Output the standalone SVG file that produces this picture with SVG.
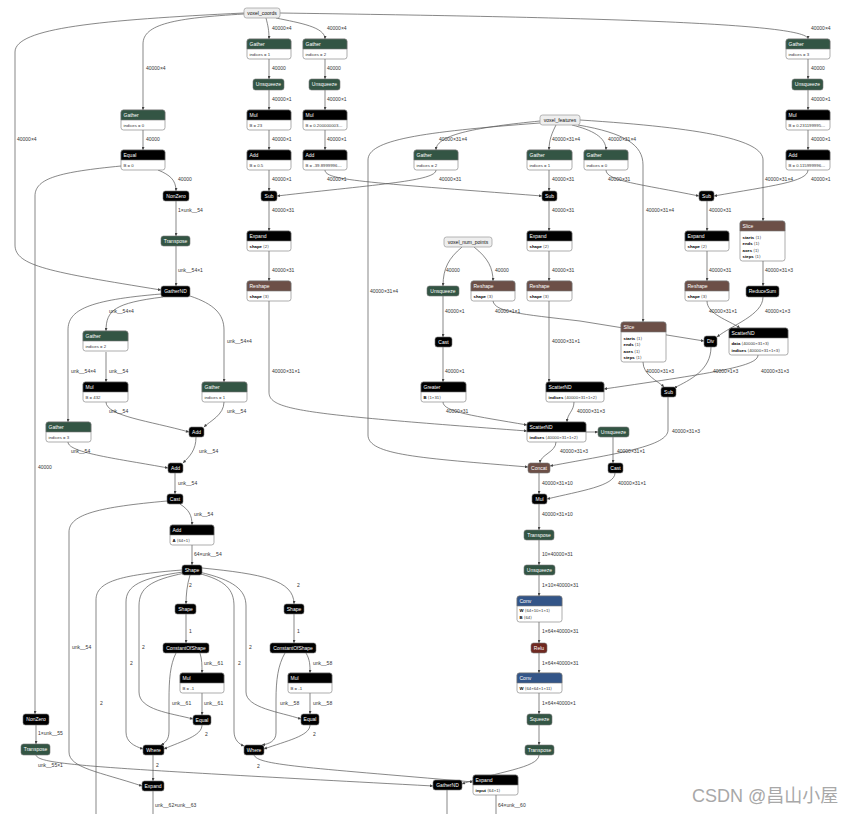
<svg xmlns="http://www.w3.org/2000/svg" width="858" height="814" viewBox="0 0 858 814">
<style>
.bg{fill:#fff}
.k{fill:#000}.tr{fill:#335544}.sh{fill:#6c4f47}.ly{fill:#335588}.ac{fill:#702921}
.n rect,.n path{stroke:#777;stroke-width:0.6}
.n rect.box{fill:#fff}
.in rect{fill:#eee;stroke:#999;stroke-width:0.7}
.it{font:5px "Liberation Sans","DejaVu Sans",sans-serif;fill:#111;text-anchor:middle}
.ht{font:5px "Liberation Sans","DejaVu Sans",sans-serif;fill:#fff}
.hc{font:5px "Liberation Sans","DejaVu Sans",sans-serif;fill:#fff;text-anchor:middle}
.at{font:4.3px "Liberation Sans","DejaVu Sans",sans-serif;fill:#333}
.b{font-weight:bold;fill:#000}
.el{font:5px "Liberation Sans","DejaVu Sans",sans-serif;fill:#333}
.e path{fill:none;stroke:#555;stroke-width:0.7;marker-end:url(#a)}
.e path.nm{marker-end:none}
.wm{font:18px "Liberation Sans","Noto Sans CJK SC",sans-serif;fill:#a8a8a8}
</style>
<defs>
<marker id="a" viewBox="0 0 10 10" refX="10" refY="5" markerWidth="3.6" markerHeight="3" markerUnits="userSpaceOnUse" orient="auto"><path d="M0,0L10,5L0,10z" fill="#444"/></marker>
</defs>
<rect class="bg" width="858" height="814"/>
<g id="connectors" class="e">
<path d="M244,14 C175,18 143,24 143,44 L143,110"/>
<path d="M244,13 C100,20 15,28 15,52 L15,245 C15,266 50,272 161,290"/>
<path d="M266,18 C268,26 269,30 269,39"/>
<path d="M276,18 C300,23 325,27 325,39"/>
<path d="M280,13 C560,17 808,22 808,39"/>
<path d="M269,59 V79"/><path d="M269,90 V110"/><path d="M269,130 V150"/><path d="M269,170 V191"/>
<path d="M325,59 V79"/><path d="M325,90 V110"/><path d="M325,130 V150"/>
<path d="M325,170 C325,180 360,182 542,196"/>
<path d="M808,59 V79"/><path d="M808,90 V110"/><path d="M808,130 V150"/>
<path d="M808,170 C808,182 770,186 714,196"/>
<path d="M143,130 V150"/>
<path d="M158,170 C170,175 176,180 176,191"/>
<path d="M121,166 C60,172 35,178 35,196 L35,714"/>
<path d="M176,201 V236"/>
<path d="M176,246 V286"/>
<path d="M269,201 V231"/><path d="M269,251 V281"/>
<path d="M269,301 L269,392 C269,410 300,414 527,431"/>
<path d="M540,121 C480,127 436,134 436,150"/>
<path d="M540,123 C420,132 368,140 368,160 L368,435 C368,455 420,458 528,467"/>
<path d="M556,125 C552,133 549,140 549,150"/>
<path d="M572,125 C592,130 606,137 606,150"/>
<path d="M578,125 C625,133 643,145 643,165 L643,322"/>
<path d="M580,120 C705,128 763,140 763,160 L763,221"/>
<path d="M436,170 C436,181 380,184 277,196"/>
<path d="M549,170 V191"/>
<path d="M606,170 C606,181 640,184 699,196"/>
<path d="M549,201 V231"/><path d="M549,251 V281"/><path d="M549,301 V382"/>
<path d="M707,201 V231"/><path d="M707,251 V281"/>
<path d="M707,301 C707,314 728,320 740,328"/>
<path d="M763,261 V286"/>
<path d="M763,297 C763,315 732,325 717,337"/>
<path d="M462,247 C449,258 443,268 443,286"/>
<path d="M474,247 C488,258 493,268 493,281"/>
<path d="M443,296 V337"/>
<path d="M443,347 V382"/>
<path d="M443,402 C443,412 475,416 527,425"/>
<path d="M493,301 C495,312 520,314 580,321 L704,341"/>
<path d="M643,362 C643,375 658,381 664,387"/>
<path d="M711,347 C711,370 690,380 674,388"/>
<path d="M758,355 C758,366 720,372 604,389"/>
<path d="M574,402 C574,411 567,414 567,422"/>
<path d="M668,397 L668,430 C668,446 620,453 550,466"/>
<path d="M586,432 H598"/>
<path d="M556,442 C556,452 540,455 540,463"/>
<path d="M613,437 V463"/>
<path d="M539,473 V494"/>
<path d="M615,473 C615,486 580,491 547,499"/>
<path d="M539,504 V530"/><path d="M539,540 V565"/><path d="M539,575 V596"/><path d="M539,622 V643"/><path d="M539,653 V673"/><path d="M539,693 V714"/><path d="M539,725 V745"/>
<path d="M539,755 C539,768 495,772 462,784"/>
<path d="M163,297 C115,303 106,310 106,331"/>
<path d="M161,294 C88,300 68,310 68,330 L68,422"/>
<path d="M190,296 C214,304 224,314 224,330 L224,382"/>
<path d="M106,352 V382"/>
<path d="M106,402 C106,416 150,421 189,432"/>
<path d="M224,402 C224,415 210,421 204,427"/>
<path d="M68,442 C68,453 120,459 168,468"/>
<path d="M196,437 C196,450 190,456 183,463"/>
<path d="M175,473 V494"/>
<path d="M180,504 C189,510 192,515 192,525"/>
<path d="M167,501 C100,507 69,514 69,532 L69,752 C69,768 100,772 142,786"/>
<path d="M192,544 V565"/>
<path d="M190,575 C187,585 186,595 186,604"/>
<path d="M202,568 C262,574 294,580 294,604"/>
<path class="nm" d="M182,570 C118,575 96,582 96,600 L96,814"/>
<path d="M183,572 C140,578 126,586 126,602 L126,732 C126,742 134,746 143,749"/>
<path d="M185,573 C150,580 139,588 139,606 L139,692 C139,710 170,713 193,719"/>
<path d="M199,572 C234,580 246,590 246,606 L246,692 C246,708 280,712 301,719"/>
<path d="M197,573 C226,580 234,590 234,606 L234,731 C234,740 239,744 244,746"/>
<path d="M186,614 V643"/>
<path d="M200,653 C202,660 202,665 202,673"/>
<path d="M176,653 C170,665 169,680 169,700 L169,731 C169,740 165,743 161,745"/>
<path d="M202,693 V715"/>
<path d="M202,725 C202,736 182,741 164,749"/>
<path d="M153,755 V781"/>
<path class="nm" d="M153,791 V814"/>
<path d="M294,614 V643"/>
<path d="M306,653 C310,660 310,665 310,673"/>
<path d="M285,653 C278,665 276,680 276,700 L276,733 C276,741 269,744 262,745"/>
<path d="M310,693 V714"/>
<path d="M310,725 C310,736 286,741 264,749"/>
<path d="M254,755 C258,765 300,767 473,782"/>
<path d="M36,725 V744"/>
<path d="M36,755 C38,765 100,768 433,786"/>
<path class="nm" d="M447,790 V814"/>
<path class="nm" d="M496,795 V814"/>
<g id="edge-labels">
<text class="el" x="272" y="30">40000×4</text>
<text class="el" x="327" y="30">40000×4</text>
<text class="el" x="811" y="30">40000×4</text>
<text class="el" x="146" y="70">40000×4</text>
<text class="el" x="272" y="70">40000</text>
<text class="el" x="327" y="70">40000</text>
<text class="el" x="811" y="70">40000</text>
<text class="el" x="272" y="101">40000×1</text>
<text class="el" x="327" y="101">40000×1</text>
<text class="el" x="811" y="101">40000×1</text>
<text class="el" x="272" y="141">40000×1</text>
<text class="el" x="327" y="141">40000×1</text>
<text class="el" x="811" y="141">40000×1</text>
<text class="el" x="17" y="141">40000×4</text>
<text class="el" x="146" y="141">40000</text>
<text class="el" x="439" y="141">40000×31×4</text>
<text class="el" x="552" y="141">40000×31×4</text>
<text class="el" x="608" y="141">40000×31×4</text>
<text class="el" x="272" y="181">40000×1</text>
<text class="el" x="327" y="181">40000×1</text>
<text class="el" x="811" y="181">40000×1</text>
<text class="el" x="178" y="181">40000</text>
<text class="el" x="439" y="181">40000×31</text>
<text class="el" x="552" y="181">40000×31</text>
<text class="el" x="608" y="181">40000×31</text>
<text class="el" x="765" y="181">40000×31×4</text>
<text class="el" x="178" y="212">1×unk__54</text>
<text class="el" x="272" y="212">40000×31</text>
<text class="el" x="552" y="212">40000×31</text>
<text class="el" x="709" y="212">40000×31</text>
<text class="el" x="646" y="212">40000×31×4</text>
<text class="el" x="178" y="272">unk__54×1</text>
<text class="el" x="272" y="272">40000×31</text>
<text class="el" x="552" y="272">40000×31</text>
<text class="el" x="709" y="272">40000×31</text>
<text class="el" x="765" y="272">40000×31×3</text>
<text class="el" x="446" y="272">40000</text>
<text class="el" x="495" y="272">40000</text>
<text class="el" x="370" y="293">40000×31×4</text>
<text class="el" x="109" y="313">unk__54×4</text>
<text class="el" x="445" y="313">40000×1</text>
<text class="el" x="495" y="313">40000×1×1</text>
<text class="el" x="709" y="313">40000×31×1</text>
<text class="el" x="765" y="313">40000×1×3</text>
<text class="el" x="227" y="343">unk__54×4</text>
<text class="el" x="552" y="343">40000×31×1</text>
<text class="el" x="71" y="373">unk__54×4</text>
<text class="el" x="109" y="373">unk__54</text>
<text class="el" x="272" y="373">40000×31×1</text>
<text class="el" x="445" y="373">40000×1</text>
<text class="el" x="646" y="373">40000×31×3</text>
<text class="el" x="713" y="373">40000×1×3</text>
<text class="el" x="761" y="373">40000×31×3</text>
<text class="el" x="109" y="413">unk__54</text>
<text class="el" x="227" y="413">unk__54</text>
<text class="el" x="446" y="413">40000×31</text>
<text class="el" x="577" y="413">40000×31×3</text>
<text class="el" x="672" y="433">40000×31×3</text>
<text class="el" x="71" y="453">unk__54</text>
<text class="el" x="199" y="453">unk__54</text>
<text class="el" x="560" y="453">40000×31×3</text>
<text class="el" x="617" y="453">40000×31×1</text>
<text class="el" x="38" y="469">40000</text>
<text class="el" x="178" y="485">unk__54</text>
<text class="el" x="542" y="485">40000×31×10</text>
<text class="el" x="618" y="485">40000×31×1</text>
<text class="el" x="194" y="516">unk__54</text>
<text class="el" x="542" y="516">40000×31×10</text>
<text class="el" x="542" y="556">10×40000×31</text>
<text class="el" x="194" y="556">64×unk__54</text>
<text class="el" x="542" y="587">1×10×40000×31</text>
<text class="el" x="189" y="587">2</text>
<text class="el" x="297" y="587">2</text>
<text class="el" x="189" y="633">1</text>
<text class="el" x="297" y="633">1</text>
<text class="el" x="542" y="633">1×64×40000×31</text>
<text class="el" x="542" y="665">1×64×40000×31</text>
<text class="el" x="72" y="649">unk__54</text>
<text class="el" x="142" y="649">2</text>
<text class="el" x="249" y="649">2</text>
<text class="el" x="130" y="665">2</text>
<text class="el" x="204" y="665">unk__61</text>
<text class="el" x="238" y="665">2</text>
<text class="el" x="313" y="665">unk__58</text>
<text class="el" x="100" y="705">2</text>
<text class="el" x="172" y="705">unk__61</text>
<text class="el" x="204" y="705">unk__61</text>
<text class="el" x="280" y="705">unk__58</text>
<text class="el" x="313" y="705">unk__58</text>
<text class="el" x="542" y="705">1×64×40000×1</text>
<text class="el" x="38" y="735">1×unk__55</text>
<text class="el" x="205" y="736">2</text>
<text class="el" x="313" y="736">2</text>
<text class="el" x="38" y="767">unk__55×1</text>
<text class="el" x="156" y="767">2</text>
<text class="el" x="257" y="768">2</text>
<text class="el" x="155" y="807">unk__62×unk__63</text>
<text class="el" x="498" y="807">64×unk__60</text>
</g>
</g>
<g id="voxel_coords" class="in"><rect x="244" y="8" width="36" height="10" rx="2.5"/><text class="it" x="262" y="14.8">voxel_coords</text></g>
<g id="voxel_features" class="in"><rect x="540" y="115" width="40" height="10" rx="2.5"/><text class="it" x="560" y="121.8">voxel_features</text></g>
<g id="voxel_num_points" class="in"><rect x="444" y="237" width="48" height="10" rx="2.5"/><text class="it" x="468" y="243.8">voxel_num_points</text></g>

<g id="gather_c1" class="n"><rect class="box" x="247" y="39" width="44" height="20" rx="2.5"/><path class="tr" d="M247,49v-7.5a2.5,2.5 0 0 1 2.5,-2.5h39a2.5,2.5 0 0 1 2.5,2.5v7.5z"/><text class="ht" x="249.5" y="46">Gather</text><text class="at" x="249.5" y="55.5">indices = 1</text></g>
<g id="gather_c2" class="n"><rect class="box" x="303" y="39" width="44" height="20" rx="2.5"/><path class="tr" d="M303,49v-7.5a2.5,2.5 0 0 1 2.5,-2.5h39a2.5,2.5 0 0 1 2.5,2.5v7.5z"/><text class="ht" x="305.5" y="46">Gather</text><text class="at" x="305.5" y="55.5">indices = 2</text></g>
<g id="gather_c3" class="n"><rect class="box" x="786" y="39" width="44" height="20" rx="2.5"/><path class="tr" d="M786,49v-7.5a2.5,2.5 0 0 1 2.5,-2.5h39a2.5,2.5 0 0 1 2.5,2.5v7.5z"/><text class="ht" x="788.5" y="46">Gather</text><text class="at" x="788.5" y="55.5">indices = 3</text></g>
<g id="gather_c0" class="n"><rect class="box" x="121" y="110" width="44" height="20" rx="2.5"/><path class="tr" d="M121,120v-7.5a2.5,2.5 0 0 1 2.5,-2.5h39a2.5,2.5 0 0 1 2.5,2.5v7.5z"/><text class="ht" x="123.5" y="117">Gather</text><text class="at" x="123.5" y="126.5">indices = 0</text></g>
<g id="unsqueeze_1" class="n"><rect class="tr" x="253" y="79" width="31" height="11" rx="2.5"/><text class="hc" x="268.5" y="86.3">Unsqueeze</text></g>
<g id="unsqueeze_2" class="n"><rect class="tr" x="309" y="79" width="31" height="11" rx="2.5"/><text class="hc" x="324.5" y="86.3">Unsqueeze</text></g>
<g id="unsqueeze_3" class="n"><rect class="tr" x="792" y="79" width="31" height="11" rx="2.5"/><text class="hc" x="807.5" y="86.3">Unsqueeze</text></g>
<g id="mul_1" class="n"><rect class="box" x="247" y="110" width="44" height="20" rx="2.5"/><path class="k" d="M247,120v-7.5a2.5,2.5 0 0 1 2.5,-2.5h39a2.5,2.5 0 0 1 2.5,2.5v7.5z"/><text class="ht" x="249.5" y="117">Mul</text><text class="at" x="249.5" y="126.5">B = 23</text></g>
<g id="mul_2" class="n"><rect class="box" x="303" y="110" width="44" height="20" rx="2.5"/><path class="k" d="M303,120v-7.5a2.5,2.5 0 0 1 2.5,-2.5h39a2.5,2.5 0 0 1 2.5,2.5v7.5z"/><text class="ht" x="305.5" y="117">Mul</text><text class="at" x="305.5" y="126.5">B = 0.200000003…</text></g>
<g id="mul_3" class="n"><rect class="box" x="786" y="110" width="44" height="20" rx="2.5"/><path class="k" d="M786,120v-7.5a2.5,2.5 0 0 1 2.5,-2.5h39a2.5,2.5 0 0 1 2.5,2.5v7.5z"/><text class="ht" x="788.5" y="117">Mul</text><text class="at" x="788.5" y="126.5">B = 0.231199995…</text></g>
<g id="add_1" class="n"><rect class="box" x="247" y="150" width="44" height="20" rx="2.5"/><path class="k" d="M247,160v-7.5a2.5,2.5 0 0 1 2.5,-2.5h39a2.5,2.5 0 0 1 2.5,2.5v7.5z"/><text class="ht" x="249.5" y="157">Add</text><text class="at" x="249.5" y="166.5">B = 0.5</text></g>
<g id="add_2" class="n"><rect class="box" x="303" y="150" width="44" height="20" rx="2.5"/><path class="k" d="M303,160v-7.5a2.5,2.5 0 0 1 2.5,-2.5h39a2.5,2.5 0 0 1 2.5,2.5v7.5z"/><text class="ht" x="305.5" y="157">Add</text><text class="at" x="305.5" y="166.5">B = -39.8999996…</text></g>
<g id="add_3" class="n"><rect class="box" x="786" y="150" width="44" height="20" rx="2.5"/><path class="k" d="M786,160v-7.5a2.5,2.5 0 0 1 2.5,-2.5h39a2.5,2.5 0 0 1 2.5,2.5v7.5z"/><text class="ht" x="788.5" y="157">Add</text><text class="at" x="788.5" y="166.5">B = 0.115999996…</text></g>
<g id="equal_1" class="n"><rect class="box" x="121" y="150" width="44" height="20" rx="2.5"/><path class="k" d="M121,160v-7.5a2.5,2.5 0 0 1 2.5,-2.5h39a2.5,2.5 0 0 1 2.5,2.5v7.5z"/><text class="ht" x="123.5" y="157">Equal</text><text class="at" x="123.5" y="166.5">B = 0</text></g>
<g id="gather_f2" class="n"><rect class="box" x="414" y="150" width="44" height="20" rx="2.5"/><path class="tr" d="M414,160v-7.5a2.5,2.5 0 0 1 2.5,-2.5h39a2.5,2.5 0 0 1 2.5,2.5v7.5z"/><text class="ht" x="416.5" y="157">Gather</text><text class="at" x="416.5" y="166.5">indices = 2</text></g>
<g id="gather_f1" class="n"><rect class="box" x="527" y="150" width="45" height="20" rx="2.5"/><path class="tr" d="M527,160v-7.5a2.5,2.5 0 0 1 2.5,-2.5h40a2.5,2.5 0 0 1 2.5,2.5v7.5z"/><text class="ht" x="529.5" y="157">Gather</text><text class="at" x="529.5" y="166.5">indices = 1</text></g>
<g id="gather_f0" class="n"><rect class="box" x="584" y="150" width="44" height="20" rx="2.5"/><path class="tr" d="M584,160v-7.5a2.5,2.5 0 0 1 2.5,-2.5h39a2.5,2.5 0 0 1 2.5,2.5v7.5z"/><text class="ht" x="586.5" y="157">Gather</text><text class="at" x="586.5" y="166.5">indices = 0</text></g>
<g id="nonzero_1" class="n"><rect class="k" x="163" y="191" width="26" height="10" rx="2.5"/><text class="hc" x="176" y="197.8">NonZero</text></g>
<g id="sub_l" class="n"><rect class="k" x="261" y="191" width="16" height="10" rx="2.5"/><text class="hc" x="269" y="197.8">Sub</text></g>
<g id="sub_m" class="n"><rect class="k" x="542" y="191" width="15" height="10" rx="2.5"/><text class="hc" x="549.5" y="197.8">Sub</text></g>
<g id="sub_r" class="n"><rect class="k" x="699" y="191" width="15" height="10" rx="2.5"/><text class="hc" x="706.5" y="197.8">Sub</text></g>
<g id="slice_1" class="n"><rect class="box" x="740" y="221" width="45" height="40" rx="2.5"/><path class="sh" d="M740,231v-7.5a2.5,2.5 0 0 1 2.5,-2.5h40a2.5,2.5 0 0 1 2.5,2.5v7.5z"/><text class="ht" x="742.5" y="228">Slice</text><text class="at" x="742.5" y="238.5"><tspan class="b">starts</tspan> ⟨1⟩</text><text class="at" x="742.5" y="245"><tspan class="b">ends</tspan> ⟨1⟩</text><text class="at" x="742.5" y="251.5"><tspan class="b">axes</tspan> ⟨1⟩</text><text class="at" x="742.5" y="258"><tspan class="b">steps</tspan> ⟨1⟩</text></g>
<g id="transpose_1" class="n"><rect class="tr" x="161" y="236" width="29" height="10" rx="2.5"/><text class="hc" x="175.5" y="242.8">Transpose</text></g>
<g id="expand_l" class="n"><rect class="box" x="247" y="231" width="44" height="20" rx="2.5"/><path class="k" d="M247,241v-7.5a2.5,2.5 0 0 1 2.5,-2.5h39a2.5,2.5 0 0 1 2.5,2.5v7.5z"/><text class="ht" x="249.5" y="238">Expand</text><text class="at" x="249.5" y="247.5"><tspan class="b">shape</tspan> ⟨2⟩</text></g>
<g id="expand_m" class="n"><rect class="box" x="527" y="231" width="45" height="20" rx="2.5"/><path class="k" d="M527,241v-7.5a2.5,2.5 0 0 1 2.5,-2.5h40a2.5,2.5 0 0 1 2.5,2.5v7.5z"/><text class="ht" x="529.5" y="238">Expand</text><text class="at" x="529.5" y="247.5"><tspan class="b">shape</tspan> ⟨2⟩</text></g>
<g id="expand_r" class="n"><rect class="box" x="685" y="231" width="44" height="20" rx="2.5"/><path class="k" d="M685,241v-7.5a2.5,2.5 0 0 1 2.5,-2.5h39a2.5,2.5 0 0 1 2.5,2.5v7.5z"/><text class="ht" x="687.5" y="238">Expand</text><text class="at" x="687.5" y="247.5"><tspan class="b">shape</tspan> ⟨2⟩</text></g>
<g id="reshape_l" class="n"><rect class="box" x="247" y="281" width="44" height="20" rx="2.5"/><path class="sh" d="M247,291v-7.5a2.5,2.5 0 0 1 2.5,-2.5h39a2.5,2.5 0 0 1 2.5,2.5v7.5z"/><text class="ht" x="249.5" y="288">Reshape</text><text class="at" x="249.5" y="297.5"><tspan class="b">shape</tspan> ⟨3⟩</text></g>
<g id="reshape_vnp" class="n"><rect class="box" x="471" y="281" width="44" height="20" rx="2.5"/><path class="sh" d="M471,291v-7.5a2.5,2.5 0 0 1 2.5,-2.5h39a2.5,2.5 0 0 1 2.5,2.5v7.5z"/><text class="ht" x="473.5" y="288">Reshape</text><text class="at" x="473.5" y="297.5"><tspan class="b">shape</tspan> ⟨3⟩</text></g>
<g id="reshape_m" class="n"><rect class="box" x="527" y="281" width="45" height="20" rx="2.5"/><path class="sh" d="M527,291v-7.5a2.5,2.5 0 0 1 2.5,-2.5h40a2.5,2.5 0 0 1 2.5,2.5v7.5z"/><text class="ht" x="529.5" y="288">Reshape</text><text class="at" x="529.5" y="297.5"><tspan class="b">shape</tspan> ⟨3⟩</text></g>
<g id="reshape_r" class="n"><rect class="box" x="685" y="281" width="44" height="20" rx="2.5"/><path class="sh" d="M685,291v-7.5a2.5,2.5 0 0 1 2.5,-2.5h39a2.5,2.5 0 0 1 2.5,2.5v7.5z"/><text class="ht" x="687.5" y="288">Reshape</text><text class="at" x="687.5" y="297.5"><tspan class="b">shape</tspan> ⟨3⟩</text></g>
<g id="unsqueeze_vnp" class="n"><rect class="tr" x="427" y="286" width="32" height="10" rx="2.5"/><text class="hc" x="443" y="292.8">Unsqueeze</text></g>
<g id="reducesum" class="n"><rect class="k" x="746" y="286" width="33" height="11" rx="2.5"/><text class="hc" x="762.5" y="293.3">ReduceSum</text></g>
<g id="gathernd_1" class="n"><rect class="k" x="161" y="286" width="29" height="11" rx="2.5"/><text class="hc" x="175.5" y="293.3">GatherND</text></g>
<g id="slice_2" class="n"><rect class="box" x="621" y="322" width="45" height="40" rx="2.5"/><path class="sh" d="M621,332v-7.5a2.5,2.5 0 0 1 2.5,-2.5h40a2.5,2.5 0 0 1 2.5,2.5v7.5z"/><text class="ht" x="623.5" y="329">Slice</text><text class="at" x="623.5" y="339.5"><tspan class="b">starts</tspan> ⟨1⟩</text><text class="at" x="623.5" y="346"><tspan class="b">ends</tspan> ⟨1⟩</text><text class="at" x="623.5" y="352.5"><tspan class="b">axes</tspan> ⟨1⟩</text><text class="at" x="623.5" y="359"><tspan class="b">steps</tspan> ⟨1⟩</text></g>
<g id="div" class="n"><rect class="k" x="704" y="336" width="13" height="11" rx="2.5"/><text class="hc" x="710.5" y="343.3">Div</text></g>
<g id="scatternd_r" class="n"><rect class="box" x="729" y="328" width="59" height="27" rx="2.5"/><path class="k" d="M729,338v-7.5a2.5,2.5 0 0 1 2.5,-2.5h54a2.5,2.5 0 0 1 2.5,2.5v7.5z"/><text class="ht" x="731.5" y="335">ScatterND</text><text class="at" x="731.5" y="344.5"><tspan class="b">data</tspan> ⟨40000×31×3⟩</text><text class="at" x="731.5" y="351.5"><tspan class="b">indices</tspan> ⟨40000×31×1×3⟩</text></g>
<g id="gather_g2" class="n"><rect class="box" x="83" y="331" width="45" height="20" rx="2.5"/><path class="tr" d="M83,341v-7.5a2.5,2.5 0 0 1 2.5,-2.5h40a2.5,2.5 0 0 1 2.5,2.5v7.5z"/><text class="ht" x="85.5" y="338">Gather</text><text class="at" x="85.5" y="347.5">indices = 2</text></g>
<g id="cast_vnp" class="n"><rect class="k" x="435" y="337" width="17" height="10" rx="2.5"/><text class="hc" x="443.5" y="343.8">Cast</text></g>
<g id="mul_432" class="n"><rect class="box" x="83" y="382" width="45" height="20" rx="2.5"/><path class="k" d="M83,392v-7.5a2.5,2.5 0 0 1 2.5,-2.5h40a2.5,2.5 0 0 1 2.5,2.5v7.5z"/><text class="ht" x="85.5" y="389">Mul</text><text class="at" x="85.5" y="398.5">B = 432</text></g>
<g id="gather_g1" class="n"><rect class="box" x="202" y="382" width="45" height="20" rx="2.5"/><path class="tr" d="M202,392v-7.5a2.5,2.5 0 0 1 2.5,-2.5h40a2.5,2.5 0 0 1 2.5,2.5v7.5z"/><text class="ht" x="204.5" y="389">Gather</text><text class="at" x="204.5" y="398.5">indices = 1</text></g>
<g id="greater" class="n"><rect class="box" x="421" y="382" width="45" height="20" rx="2.5"/><path class="k" d="M421,392v-7.5a2.5,2.5 0 0 1 2.5,-2.5h40a2.5,2.5 0 0 1 2.5,2.5v7.5z"/><text class="ht" x="423.5" y="389">Greater</text><text class="at" x="423.5" y="398.5"><tspan class="b">B</tspan> ⟨1×31⟩</text></g>
<g id="scatternd_u" class="n"><rect class="box" x="546" y="382" width="58" height="20" rx="2.5"/><path class="k" d="M546,392v-7.5a2.5,2.5 0 0 1 2.5,-2.5h53a2.5,2.5 0 0 1 2.5,2.5v7.5z"/><text class="ht" x="548.5" y="389">ScatterND</text><text class="at" x="548.5" y="398.5"><tspan class="b">indices</tspan> ⟨40000×31×1×2⟩</text></g>
<g id="sub_b" class="n"><rect class="k" x="661" y="387" width="15" height="10" rx="2.5"/><text class="hc" x="668.5" y="393.8">Sub</text></g>
<g id="gather_g3" class="n"><rect class="box" x="46" y="422" width="45" height="20" rx="2.5"/><path class="tr" d="M46,432v-7.5a2.5,2.5 0 0 1 2.5,-2.5h40a2.5,2.5 0 0 1 2.5,2.5v7.5z"/><text class="ht" x="48.5" y="429">Gather</text><text class="at" x="48.5" y="438.5">indices = 3</text></g>
<g id="add_a" class="n"><rect class="k" x="189" y="427" width="15" height="10" rx="2.5"/><text class="hc" x="196.5" y="433.8">Add</text></g>
<g id="scatternd_l" class="n"><rect class="box" x="527" y="422" width="59" height="20" rx="2.5"/><path class="k" d="M527,432v-7.5a2.5,2.5 0 0 1 2.5,-2.5h54a2.5,2.5 0 0 1 2.5,2.5v7.5z"/><text class="ht" x="529.5" y="429">ScatterND</text><text class="at" x="529.5" y="438.5"><tspan class="b">indices</tspan> ⟨40000×31×1×2⟩</text></g>
<g id="unsqueeze_b" class="n"><rect class="tr" x="598" y="427" width="31" height="10" rx="2.5"/><text class="hc" x="613.5" y="433.8">Unsqueeze</text></g>
<g id="add_b" class="n"><rect class="k" x="168" y="463" width="15" height="10" rx="2.5"/><text class="hc" x="175.5" y="469.8">Add</text></g>
<g id="concat" class="n"><rect class="sh" x="528" y="463" width="22" height="10" rx="2.5"/><text class="hc" x="539" y="469.8">Concat</text></g>
<g id="cast_b" class="n"><rect class="k" x="608" y="463" width="15" height="10" rx="2.5"/><text class="hc" x="615.5" y="469.8">Cast</text></g>
<g id="cast_l" class="n"><rect class="k" x="167" y="494" width="16" height="10" rx="2.5"/><text class="hc" x="175" y="500.8">Cast</text></g>
<g id="mul_b" class="n"><rect class="k" x="532" y="494" width="15" height="10" rx="2.5"/><text class="hc" x="539.5" y="500.8">Mul</text></g>
<g id="add_A" class="n"><rect class="box" x="170" y="525" width="44" height="20" rx="2.5"/><path class="k" d="M170,535v-7.5a2.5,2.5 0 0 1 2.5,-2.5h39a2.5,2.5 0 0 1 2.5,2.5v7.5z"/><text class="ht" x="172.5" y="532">Add</text><text class="at" x="172.5" y="541.5"><tspan class="b">A</tspan> ⟨64×1⟩</text></g>
<g id="transpose_b" class="n"><rect class="tr" x="524" y="530" width="30" height="10" rx="2.5"/><text class="hc" x="539" y="536.8">Transpose</text></g>
<g id="shape_top" class="n"><rect class="k" x="182" y="565" width="20" height="10" rx="2.5"/><text class="hc" x="192" y="571.8">Shape</text></g>
<g id="unsqueeze_c" class="n"><rect class="tr" x="524" y="565" width="31" height="10" rx="2.5"/><text class="hc" x="539.5" y="571.8">Unsqueeze</text></g>
<g id="conv_1" class="n"><rect class="box" x="517" y="596" width="45" height="26" rx="2.5"/><path class="ly" d="M517,606v-7.5a2.5,2.5 0 0 1 2.5,-2.5h40a2.5,2.5 0 0 1 2.5,2.5v7.5z"/><text class="ht" x="519.5" y="603">Conv</text><text class="at" x="519.5" y="612"><tspan class="b">W</tspan> ⟨64×10×1×1⟩</text><text class="at" x="519.5" y="619"><tspan class="b">B</tspan> ⟨64⟩</text></g>
<g id="shape_l" class="n"><rect class="k" x="175" y="604" width="21" height="10" rx="2.5"/><text class="hc" x="185.5" y="610.8">Shape</text></g>
<g id="shape_r" class="n"><rect class="k" x="284" y="604" width="20" height="10" rx="2.5"/><text class="hc" x="294" y="610.8">Shape</text></g>
<g id="relu" class="n"><rect class="ac" x="531" y="643" width="16" height="10" rx="2.5"/><text class="hc" x="539" y="649.8">Relu</text></g>
<g id="cos_l" class="n"><rect class="k" x="163" y="643" width="46" height="10" rx="2.5"/><text class="hc" x="186" y="649.8">ConstantOfShape</text></g>
<g id="cos_r" class="n"><rect class="k" x="270" y="643" width="46" height="10" rx="2.5"/><text class="hc" x="293" y="649.8">ConstantOfShape</text></g>
<g id="mul_l" class="n"><rect class="box" x="180" y="673" width="44" height="20" rx="2.5"/><path class="k" d="M180,683v-7.5a2.5,2.5 0 0 1 2.5,-2.5h39a2.5,2.5 0 0 1 2.5,2.5v7.5z"/><text class="ht" x="182.5" y="680">Mul</text><text class="at" x="182.5" y="689.5">B = -1</text></g>
<g id="mul_r" class="n"><rect class="box" x="288" y="673" width="44" height="20" rx="2.5"/><path class="k" d="M288,683v-7.5a2.5,2.5 0 0 1 2.5,-2.5h39a2.5,2.5 0 0 1 2.5,2.5v7.5z"/><text class="ht" x="290.5" y="680">Mul</text><text class="at" x="290.5" y="689.5">B = -1</text></g>
<g id="conv_2" class="n"><rect class="box" x="517" y="673" width="45" height="20" rx="2.5"/><path class="ly" d="M517,683v-7.5a2.5,2.5 0 0 1 2.5,-2.5h40a2.5,2.5 0 0 1 2.5,2.5v7.5z"/><text class="ht" x="519.5" y="680">Conv</text><text class="at" x="519.5" y="689.5"><tspan class="b">W</tspan> ⟨64×64×1×11⟩</text></g>
<g id="nonzero_2" class="n"><rect class="k" x="23" y="714" width="26" height="11" rx="2.5"/><text class="hc" x="36" y="721.3">NonZero</text></g>
<g id="equal_l" class="n"><rect class="k" x="193" y="715" width="18" height="10" rx="2.5"/><text class="hc" x="202" y="721.8">Equal</text></g>
<g id="equal_r" class="n"><rect class="k" x="301" y="714" width="18" height="11" rx="2.5"/><text class="hc" x="310" y="721.3">Equal</text></g>
<g id="squeeze" class="n"><rect class="tr" x="527" y="714" width="25" height="11" rx="2.5"/><text class="hc" x="539.5" y="721.3">Squeeze</text></g>
<g id="transpose_2" class="n"><rect class="tr" x="21" y="744" width="29" height="11" rx="2.5"/><text class="hc" x="35.5" y="751.3">Transpose</text></g>
<g id="where_l" class="n"><rect class="k" x="143" y="745" width="21" height="10" rx="2.5"/><text class="hc" x="153.5" y="751.8">Where</text></g>
<g id="where_r" class="n"><rect class="k" x="244" y="745" width="20" height="10" rx="2.5"/><text class="hc" x="254" y="751.8">Where</text></g>
<g id="transpose_c" class="n"><rect class="tr" x="525" y="745" width="29" height="10" rx="2.5"/><text class="hc" x="539.5" y="751.8">Transpose</text></g>
<g id="expand_bl" class="n"><rect class="k" x="142" y="781" width="22" height="10" rx="2.5"/><text class="hc" x="153" y="787.8">Expand</text></g>
<g id="gathernd_2" class="n"><rect class="k" x="433" y="780" width="29" height="10" rx="2.5"/><text class="hc" x="447.5" y="786.8">GatherND</text></g>
<g id="expand_br" class="n"><rect class="box" x="473" y="775" width="45" height="20" rx="2.5"/><path class="k" d="M473,785v-7.5a2.5,2.5 0 0 1 2.5,-2.5h40a2.5,2.5 0 0 1 2.5,2.5v7.5z"/><text class="ht" x="475.5" y="782">Expand</text><text class="at" x="475.5" y="791.5"><tspan class="b">input</tspan> ⟨64×1⟩</text></g>
<text class="wm" x="692" y="802">CSDN @昌山小屋</text>
</svg>
